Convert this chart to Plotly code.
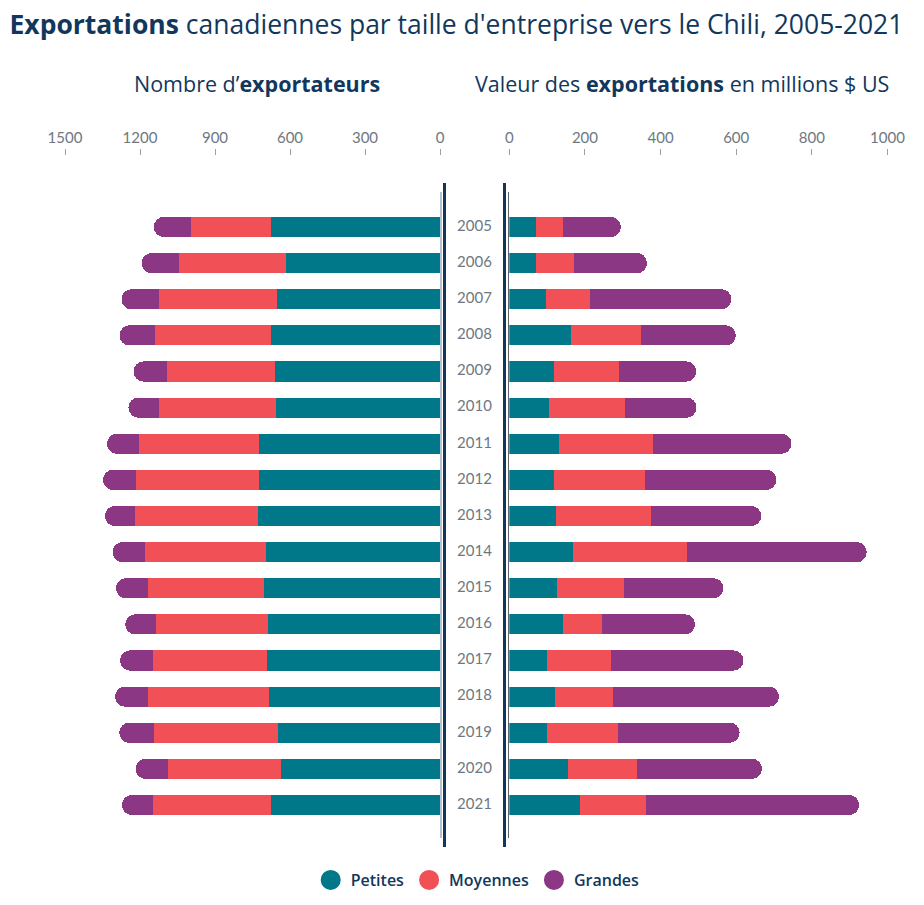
import plotly.graph_objects as go

years = list(range(2005, 2022))
petites_n = [675, 615, 653, 678, 659, 658, 725, 723, 729, 698, 706, 687, 691, 686, 650, 635, 678]
moyennes_n = [322, 429, 472, 463, 435, 467, 480, 492, 492, 481, 463, 449, 459, 483, 495, 453, 471]
grandes_n = [148, 150, 149, 141, 132, 121, 127, 133, 119, 131, 127, 123, 130, 131, 138, 130, 123]

petites_v = [70, 70, 96, 162, 117, 104, 131, 119, 123, 169, 125, 141, 101, 120, 99, 154, 187]
moyennes_v = [73, 101, 118, 186, 172, 203, 249, 240, 252, 302, 179, 103, 168, 155, 189, 184, 175]
grandes_v = [152, 193, 373, 251, 205, 188, 366, 347, 291, 474, 262, 247, 350, 438, 321, 330, 563]

series = ["Petites", "Moyennes", "Grandes"]
colors = ["#00788A", "#F05056", "#8C3784"]
NAVY = "#12375C"
GRAY = "#6E7781"
FONT = "Lato"
TFONT = "Open Sans"

W, H = 924, 905
def px(x): return x / W
def py(y): return (H - y) / H

fig = go.Figure()

for name, col, vals in zip(series, colors, [petites_n, moyennes_n, grandes_n]):
    fig.add_trace(go.Bar(y=years, x=vals, orientation="h", marker=dict(color=col, line=dict(width=0)),
                         width=0.56, xaxis="x", yaxis="y", showlegend=False, name=name))
for name, col, vals in zip(series, colors, [petites_v, moyennes_v, grandes_v]):
    fig.add_trace(go.Bar(y=years, x=vals, orientation="h", marker=dict(color=col, line=dict(width=0)),
                         width=0.56, xaxis="x3", yaxis="y3", showlegend=False, name=name))

fig.add_trace(go.Scatter(x=[0] * len(years), y=years, mode="text", text=[str(y) for y in years],
                         textfont=dict(family=FONT, size=15, color=GRAY), xaxis="x2", yaxis="y2",
                         showlegend=False, hoverinfo="skip"))

for name, col in zip(series, colors):
    fig.add_trace(go.Scatter(x=[None], y=[None], mode="markers", name=name,
                             marker=dict(color=col, size=24, symbol="circle", line=dict(color=col, width=4)),
                             xaxis="x3", yaxis="y3"))

side_dom = [py(838), py(192)]
mid_dom = [py(847), py(183)]
side_range = [2021 + 33 / 36.125, 2005 - 35 / 36.125]
mid_range = [2021 + 42 / 36.125, 2005 - 44 / 36.125]

tickfont = dict(family=FONT, size=15, color=GRAY)
axis_pos = py(155)

fig.update_layout(
    width=W, height=H,
    margin=dict(l=0, r=0, t=0, b=0, autoexpand=False),
    plot_bgcolor="white", paper_bgcolor="white",
    barmode="stack", barcornerradius="50%",
    font=dict(family=FONT, color=NAVY),
    title=dict(text="<b>Exportations</b> canadiennes par taille d'entreprise vers le Chili, 2005-2021",
               x=0.494, xanchor="center", y=py(25), yanchor="middle",
               font=dict(family=TFONT, size=26.5, color=NAVY)),
    xaxis=dict(domain=[px(65), px(440)], range=[1500, 0], side="top", anchor="free", position=axis_pos,
               tickvals=[1500, 1200, 900, 600, 300, 0], ticks="outside", ticklen=6, tickcolor="#9AA0A6",
               tickfont=tickfont, showgrid=False, zeroline=False, showline=False, automargin=False),
    yaxis=dict(domain=side_dom, range=side_range, showticklabels=False, showgrid=False, zeroline=False,
               showline=True, side="right", linecolor="#B5C2CE", linewidth=2, anchor="x", automargin=False),
    xaxis2=dict(domain=[px(446), px(503)], range=[-1, 1], visible=False, anchor="y2", automargin=False),
    yaxis2=dict(domain=mid_dom, range=mid_range, showticklabels=False, showgrid=False, zeroline=False,
                showline=True, mirror=True, linecolor=NAVY, linewidth=3, anchor="x2", automargin=False),
    xaxis3=dict(domain=[px(509.3), px(887.5)], range=[0, 1000], side="top", anchor="free", position=axis_pos,
                tickvals=[0, 200, 400, 600, 800, 1000], ticks="outside", ticklen=6, tickcolor="#9AA0A6",
                tickfont=tickfont, showgrid=False, zeroline=False, showline=False, automargin=False),
    yaxis3=dict(domain=side_dom, range=side_range, showticklabels=False, showgrid=False, zeroline=False,
                showline=True, side="left", linecolor="#5B6670", linewidth=1.3, anchor="x3", automargin=False),
    legend=dict(orientation="h", x=0.517, xanchor="center", y=py(880), yanchor="middle",
                traceorder="normal",
                font=dict(family=TFONT, size=16, color=NAVY, weight=600), itemsizing="trace"),
    annotations=[
        dict(text="Nombre d\u2019<b>exportateurs</b>", x=px(257), y=py(83), xref="paper", yref="paper",
             showarrow=False, font=dict(family=TFONT, size=21.5, color=NAVY), xanchor="center", yanchor="middle"),
        dict(text="Valeur des <b>exportations</b> en millions $ US", x=px(682), y=py(83), xref="paper",
             yref="paper", showarrow=False, font=dict(family=TFONT, size=21.5, color=NAVY),
             xanchor="center", yanchor="middle"),
    ],
)

fig.write_html("out.html", config={"displayModeBar": False},
               post_script="document.body.style.margin='0';document.body.style.overflow='hidden';")
